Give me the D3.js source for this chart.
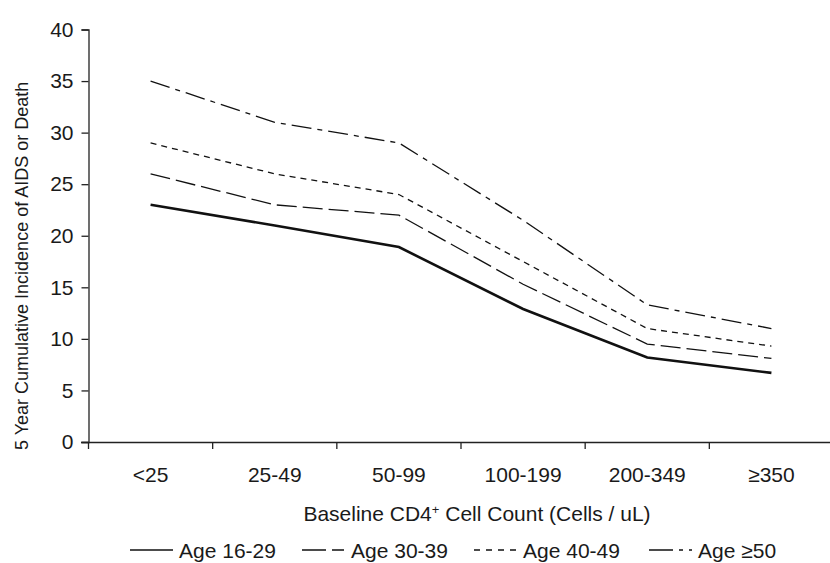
<!DOCTYPE html>
<html>
<head>
<meta charset="UTF-8">
<title></title>
<style>
  body { margin: 0; background: #fff; }
  svg text { font-family: "Liberation Sans", Arial, sans-serif; fill: #1a1a1a; }
</style>
</head>
<body>
<svg width="830" height="563"></svg>
<script src="https://cdn.jsdelivr.net/npm/d3@7/dist/d3.min.js"></script>
<script>
var categories = ["<25", "25-49", "50-99", "100-199", "200-349", "\u2265350"];
var yTicks = [0, 5, 10, 15, 20, 25, 30, 35, 40];
var age1629 = [23, 21, 18.9, 12.9, 8.2, 6.7];
var age3039 = [26, 23, 22, 15.3, 9.5, 8.1];
var age4049 = [29, 26, 24, 17.5, 11, 9.3];
var age50 = [35, 31, 29, 21.5, 13.3, 11];
var seriesNames = ["Age 16-29", "Age 30-39", "Age 40-49", "Age \u226550"];

var series = [
  { name: seriesNames[0], values: age1629, width: 2.6, dash: null },
  { name: seriesNames[1], values: age3039, width: 1.3, dash: "20,6" },
  { name: seriesNames[2], values: age4049, width: 1.3, dash: "6,5" },
  { name: seriesNames[3], values: age50, width: 1.3, dash: "20,6,5,6" }
];

var svg = d3.select("svg");
var x = d3.scaleBand().domain(categories).range([88.5, 833.5]);
var y = d3.scaleLinear().domain([0, 40]).range([442, 29.5]);

// y axis
var yAxis = svg.append("g").attr("transform", "translate(88.5,0)")
  .call(d3.axisLeft(y).tickValues(yTicks).tickSize(7).tickPadding(8));
yAxis.selectAll("text").style("font-size", "21px");

// x axis
var xAxis = svg.append("g").attr("transform", "translate(0,442)")
  .call(d3.axisBottom(x).tickSize(0).tickPadding(25));
xAxis.select(".domain").attr("d", "M81,0.5H830");
xAxis.selectAll("text").style("font-size", "21px");
xAxis.selectAll(".sep").data(categories).enter().append("line")
  .attr("x1", function(d) { return x(d); }).attr("x2", function(d) { return x(d); })
  .attr("y1", 0).attr("y2", 7).attr("stroke", "#222").attr("stroke-width", 1.3);

svg.selectAll(".domain").attr("stroke", "#222").attr("stroke-width", 1.3);
svg.selectAll(".tick line").attr("stroke", "#222").attr("stroke-width", 1.3);

// titles
svg.append("text").attr("x", 477).attr("y", 521).attr("text-anchor", "middle")
  .style("font-size", "21px")
  .html('Baseline CD4<tspan dy="-7" style="font-size:13px">+</tspan><tspan dy="7"> Cell Count (Cells / uL)</tspan>');

svg.append("text").attr("transform", "translate(28,450) rotate(-90)")
  .attr("text-anchor", "start").style("font-size", "18px")
  .text("5 Year Cumulative Incidence of AIDS or Death");

// lines
var line = d3.line()
  .x(function(d, i) { return x(categories[i]) + x.bandwidth() / 2; })
  .y(function(d) { return y(d); });

svg.selectAll(".series").data(series).enter().append("path")
  .attr("class", "series")
  .attr("d", function(d) { return line(d.values); })
  .attr("fill", "none").attr("stroke", "#111")
  .attr("stroke-width", function(d) { return d.width; })
  .attr("stroke-dasharray", function(d) { return d.dash; });

// legend
var legendX = [130, 302, 474, 649];
var lg = svg.selectAll(".legend").data(series).enter().append("g")
  .attr("transform", function(d, i) { return "translate(" + legendX[i] + ",550)"; });
lg.append("line").attr("x1", 0).attr("x2", 43).attr("y1", 0).attr("y2", 0)
  .attr("stroke", "#111")
  .attr("stroke-width", function(d, i) { return i === 0 ? 1.5 : 1.3; })
  .attr("stroke-dasharray", function(d, i) { return ["", "24,6,12", "6,6", "24,6,4,6"][i]; });
lg.append("text").attr("x", 49).attr("y", 8).style("font-size", "21px")
  .text(function(d) { return d.name; });
</script>
</body>
</html>
